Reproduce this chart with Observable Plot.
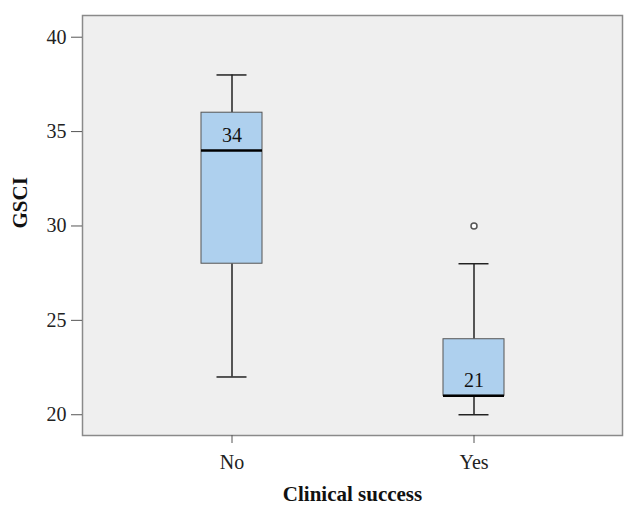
<!DOCTYPE html>
<html>
<head>
<meta charset="utf-8">
<script src="https://cdn.jsdelivr.net/npm/d3@7"></script>
<script src="https://cdn.jsdelivr.net/npm/@observablehq/plot@0.6"></script>
<style>
  html, body { margin: 0; padding: 0; background: #ffffff; }
</style>
</head>
<body>
<div id="chart"></div>
<script>
const groups = ["No", "Yes"];
const mins = [22, 20];
const q1s = [28, 21];
const medians = [34, 21];
const q3s = [36, 24];
const maxs = [38, 28];
const outlierGroups = ["Yes"];
const outlierValues = [30];
const yTicks = [20, 25, 30, 35, 40];
const xTitle = "Clinical success";
const yTitle = "GSCI";

const boxes = groups.map((g, i) => ({
  group: g, min: mins[i], q1: q1s[i], median: medians[i], q3: q3s[i], max: maxs[i]
}));
const outliers = outlierGroups.map((g, i) => ({group: g, value: outlierValues[i]}));

const chart = Plot.plot({
  width: 639,
  height: 516,
  marginLeft: 82,
  marginRight: 17,
  marginTop: 15,
  marginBottom: 81,
  style: {fontFamily: "'Liberation Serif', serif", fontSize: "20px", color: "#222", background: "#ffffff"},
  x: {type: "band", domain: groups, paddingInner: 0.749, paddingOuter: 0.486},
  y: {domain: [18.9, 41.15]},
  marks: [
    Plot.frame({fill: "#efefef", stroke: "#8a8a8a", strokeWidth: 1.5}),
    Plot.ruleX(boxes, {x: "group", y1: "min", y2: "q1", stroke: "#222", strokeWidth: 1.5}),
    Plot.ruleX(boxes, {x: "group", y1: "q3", y2: "max", stroke: "#222", strokeWidth: 1.5}),
    Plot.tickY(boxes, {x: "group", y: "min", stroke: "#222", strokeWidth: 1.5, insetLeft: 15.5, insetRight: 15.5}),
    Plot.tickY(boxes, {x: "group", y: "max", stroke: "#222", strokeWidth: 1.5, insetLeft: 15.5, insetRight: 15.5}),
    Plot.barY(boxes, {x: "group", y1: "q1", y2: "q3", fill: "#aed0ee", stroke: "#555", strokeWidth: 1}),
    Plot.tickY(boxes, {x: "group", y: "median", stroke: "#000", strokeWidth: 2.5}),
    Plot.text(boxes, {x: "group", y: "median", text: d => String(d.median), dy: -15, fill: "#111", fontSize: 20}),
    Plot.dot(outliers, {x: "group", y: "value", r: 3, stroke: "#555", fill: "#ffffff", strokeWidth: 1.5}),
    Plot.axisY({ticks: yTicks, tickSize: 11, tickPadding: 5, stroke: "#555", fill: "#222", fontSize: 20, label: null}),
    Plot.axisX({tickSize: 8, tickPadding: 11, stroke: "#555", fill: "#222", fontSize: 20, label: null}),
    Plot.text([xTitle], {frameAnchor: "bottom", dy: 65, fontWeight: "bold", fontSize: 21, fill: "#111"}),
    Plot.text([yTitle], {frameAnchor: "left", dx: -62, dy: 3, rotate: -90, fontWeight: "bold", fontSize: 21, fill: "#111"})
  ]
});
document.getElementById("chart").appendChild(chart);
</script>
</body>
</html>
